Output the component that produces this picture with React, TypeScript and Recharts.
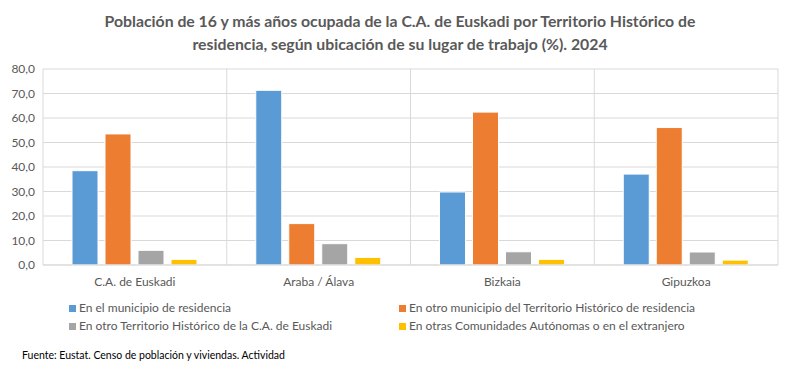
import { Bar, BarChart, CartesianGrid, XAxis, YAxis } from "recharts"

const categories = ["C.A. de Euskadi", "Araba / Álava", "Bizkaia", "Gipuzkoa"]
const enMunicipio = [38.5, 71.3, 29.8, 37.1]
const otroMunicipioTH = [53.5, 16.9, 62.4, 56.1]
const otroTH = [6.0, 8.7, 5.4, 5.3]
const otrasCCAA = [2.3, 3.1, 2.3, 2.0]
const yTicks = [0, 10, 20, 30, 40, 50, 60, 70, 80]

const series = [
  { key: "a", label: "En el municipio de residencia", values: enMunicipio, color: "#5B9BD5" },
  { key: "b", label: "En otro municipio del Territorio Histórico de residencia", values: otroMunicipioTH, color: "#ED7D31" },
  { key: "c", label: "En otro Territorio Histórico de la C.A. de Euskadi", values: otroTH, color: "#A5A5A5" },
  { key: "d", label: "En otras Comunidades Autónomas o en el extranjero", values: otrasCCAA, color: "#FFC000" },
]

const data = categories.map((name, i) => {
  const row: Record<string, string | number> = { name }
  series.forEach((s) => (row[s.key] = s.values[i]))
  return row
})

const font = "Lato, 'Open Sans', sans-serif"

export default function App() {
  return (
    <div style={{ position: "absolute", left: 0, top: 0, width: 800, height: 367, background: "#fff", fontFamily: font }}>
      <div
        style={{
          position: "absolute",
          top: 9,
          left: 0,
          width: 800,
          textAlign: "center",
          fontSize: 15.8,
          fontWeight: 700,
          color: "#595959",
          lineHeight: "23px",
        }}
      >
        Población de 16 y más años ocupada de la C.A. de Euskadi por Territorio Histórico de
        <br />
        residencia, según ubicación de su lugar de trabajo (%). 2024
      </div>

      <BarChart
        width={800}
        height={367}
        data={data}
        margin={{ top: 69, right: 22, bottom: 72, left: 0 }}
        barSize={26}
        barGap={7}
        style={{ position: "absolute", left: 0, top: 0 }}
      >
        <CartesianGrid
          stroke="#d9d9d9"
          verticalCoordinatesGenerator={({ offset }: any) =>
            [...categories, ""].map((_, i) => offset.left + (i * offset.width) / categories.length)
          }
        />
        <XAxis
          dataKey="name"
          height={30}
          tickLine={false}
          axisLine={{ stroke: "#d9d9d9" }}
          tick={{ fontSize: 12, fill: "#595959", fontFamily: font, dy: 4 }}
          interval={0}
        />
        <YAxis
          width={43}
          domain={[0, 80]}
          ticks={yTicks}
          tickLine={false}
          axisLine={false}
          tickFormatter={(v: number) => v.toFixed(1).replace(".", ",")}
          tick={{ fontSize: 12, fill: "#595959", fontFamily: font }}
        />
        {series.map((s) => (
          <Bar key={s.key} dataKey={s.key} name={s.label} fill={s.color} stroke="#fff" strokeWidth={1} isAnimationActive={false} />
        ))}
      </BarChart>

      <div
        style={{
          position: "absolute",
          top: 300,
          left: 69,
          width: 700,
          display: "grid",
          gridTemplateColumns: "330px 370px",
          rowGap: 2,
          fontSize: 12,
          color: "#595959",
          lineHeight: "16px",
        }}
      >
        {series.map((s) => (
          <div key={s.key} style={{ display: "flex", alignItems: "center", whiteSpace: "nowrap" }}>
            <span style={{ width: 7, height: 7, background: s.color, marginRight: 3, display: "inline-block" }} />
            {s.label}
          </div>
        ))}
      </div>

      <div style={{ position: "absolute", top: 349, left: 22, fontSize: 10.5, color: "#000" }}>
        Fuente: Eustat. Censo de población y viviendas. Actividad
      </div>
    </div>
  )
}
